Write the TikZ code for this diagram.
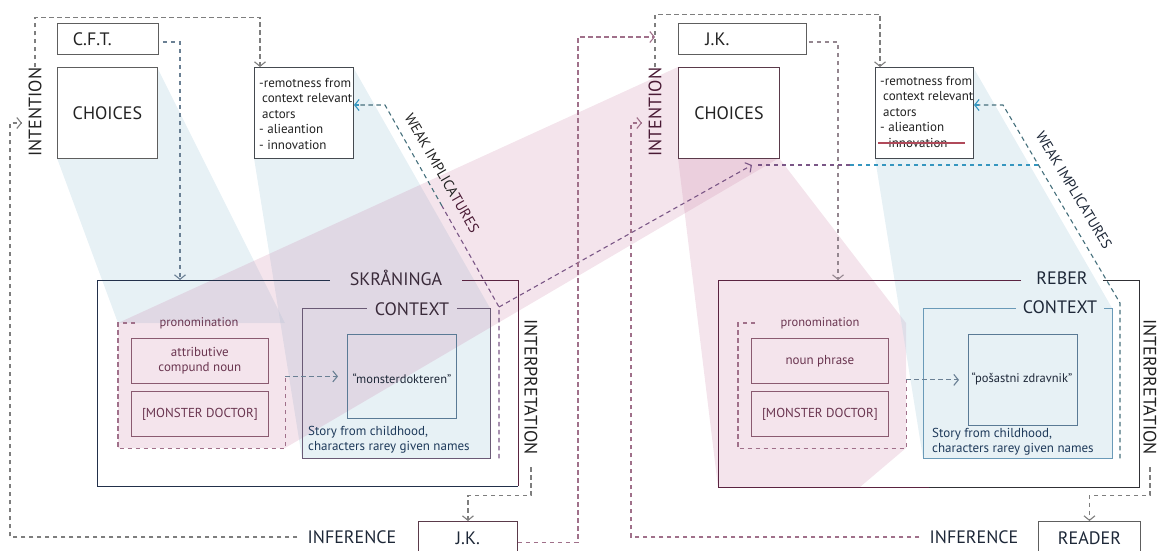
\documentclass[tikz,border=0pt]{standalone}
\usepackage{fontspec}
\setmainfont{PT Sans}
\usetikzlibrary{arrows.meta}

\definecolor{ink}{HTML}{222222}
\definecolor{txtdark}{HTML}{1E2838}
\definecolor{txtmaroon}{HTML}{6A3550}
\definecolor{txtblue}{HTML}{1E3A5A}
\definecolor{maroontxt}{HTML}{4A1A35}
\definecolor{titletxt}{HTML}{3A2A3A}
\definecolor{boxgray}{HTML}{5E5E5E}
\definecolor{boxdark}{HTML}{454A50}
\definecolor{maroonbox}{HTML}{5A3A4A}
\definecolor{navyline}{HTML}{22304A}
\definecolor{maroonline}{HTML}{5A2340}
\definecolor{darkline}{HTML}{303035}
\definecolor{ctxmauve}{HTML}{6A5A75}
\definecolor{ctxblue}{HTML}{6A9AB8}
\definecolor{innerblue}{HTML}{5A7A95}
\definecolor{pinkbox}{HTML}{8A5A70}
\definecolor{pinkdash}{HTML}{A0708A}
\definecolor{mauvedash}{HTML}{94868F}
\definecolor{graydash}{HTML}{7E7E7E}
\definecolor{bluegray}{HTML}{6A8094}
\definecolor{tealdash}{HTML}{46707C}
\definecolor{purpledash}{HTML}{7A5686}
\definecolor{bluearrow}{HTML}{3596BF}
\definecolor{strike}{HTML}{B04A5A}
\definecolor{bandblue}{HTML}{B4D2E1}
\definecolor{bandpink}{HTML}{C87AA0}

\begin{document}
\begin{tikzpicture}[x=1pt,y=-1pt,
  every node/.style={inner sep=0pt, text=ink},
  bigt/.style={font=\fontsize{18}{21}\selectfont},
  midt/.style={font=\fontsize{13}{15.5}\selectfont},
  smallt/.style={font=\fontsize{12.5}{15}\selectfont},
  weakt/.style={font=\fontsize{14.5}{16}\selectfont},
  wbox/.style={draw=#1, fill=white, line width=0.9pt},
  thinbox/.style={draw=#1, line width=0.8pt},
  frame/.style={anchor=north west},
  dsh/.style={line width=1.1pt, dash pattern=on 4.5pt off 3.5pt},
  tip/.style={-{Straight Barb[length=4.5pt,width=11pt]}},
  bandb/.style={fill=bandblue, fill opacity=0.32},
  bandp/.style={fill=bandpink, fill opacity=0.2}
]
\useasboundingbox (0,0) rectangle (1158,550);

% translucent bands linking the boxes
\fill[bandb] (57,158) -- (157,67) -- (285,323) -- (118,323) -- cycle;
\fill[bandb] (254,158) -- (353,67) -- (490,308) -- (490,458) -- (302,458) -- cycle;
\fill[bandp] (678,67) -- (779,158) -- (285,448) -- (118,448) -- (118,323) -- cycle;
\fill[bandp] (678,158) -- (779,158) -- (906,323) -- (906,448) -- (860,487) -- (718,487) -- cycle;
\fill[bandb] (875,158) -- (973,67) -- (1112,308) -- (1112,458) -- (923,458) -- cycle;

% ---------- left half: top row ----------
\node[wbox=boxgray, bigt, frame, minimum height=31pt, text width=70pt, inner xsep=15.5pt, align=left] (cft) at (57,23) {C.F.T.};
\node[wbox=boxgray, bigt, frame, minimum width=100pt, minimum height=91pt] (cho1) at (57,67) {CHOICES};
\node[wbox=boxdark, frame, minimum width=99pt, minimum height=91pt] (rem1) at (254,67) {};
\node[midt, anchor=north west, align=left] (rem1t) at (259,78)
  {-remotness from\\\hspace{3pt}context relevant\\\hspace{3pt}actors\\- alieantion\\- innovation};
\node[bigt, rotate=90] (int1) at (35,112) {INTENTION};

% ---------- right half: top row ----------
\node[wbox=boxgray, bigt, frame, minimum height=31pt, text width=74pt, inner xsep=27pt, align=left] (jk1) at (678,23) {J.K.};
\node[wbox=maroonbox, bigt, frame, minimum width=101pt, minimum height=91pt] (cho2) at (678,67) {CHOICES};
\node[wbox=boxdark, frame, minimum width=98pt, minimum height=91pt] (rem2) at (875,67) {};
\node[midt, anchor=north west, align=left] (rem2t) at (880,76)
  {-remotness from\\\hspace{3pt}context relevant\\\hspace{3pt}actors\\- alieantion\\- innovation};
\draw[strike, line width=1.5pt] (878,143) -- (965,143);
\node[bigt, rotate=90, text=maroontxt] (int2) at (655,112) {INTENTION};

% ---------- left frame: SKRÅNINGA ----------
\node[frame, minimum width=421pt, minimum height=206pt] (skr) at (97,280) {};
\node[bigt, inner xsep=20pt, text=titletxt] (skrt) at (396,278) {SKRÅNINGA};
\draw[navyline, line width=1pt] (skrt.west |- skr.north) -- (skr.north west) -- (skr.south west) -- (skr.south east);
\draw[maroonline, line width=1pt] (skrt.east |- skr.north) -- (skr.north east) -- (skr.south east);

\node[frame, minimum width=188pt, minimum height=150pt] (ctx1) at (302,308) {};
\node[bigt, inner xsep=8pt, text=titletxt] (ctx1t) at (412,309) {CONTEXT};
\draw[ctxmauve, line width=0.8pt] (ctx1t.west |- ctx1.north) -- (ctx1.north west) -- (ctx1.south west)
  -- (ctx1.south east) -- (ctx1.north east) -- (ctx1t.east |- ctx1.north);
\node[thinbox=innerblue, frame, minimum width=109pt, minimum height=84pt] (mon1) at (347,334) {};
\node[smallt, text=txtdark] (mon1t) at (402,379) {“monsterdokteren”};
\node[midt, text=txtblue, anchor=north west, align=left] (story1) at (308,426)
  {Story from childhood,\\characters rarey given names};

\node[frame, minimum width=167pt, minimum height=125pt] (pron1) at (118,323) {};
\node[smallt, text=txtmaroon] (pron1t) at (199,323) {pronomination};
\node[thinbox=pinkbox, frame, midt, text=txtmaroon, align=center, minimum width=137pt, minimum height=45pt] (attr1) at (131,338) {attributive\\compund noun};
\node[thinbox=pinkbox, frame, midt, text=txtmaroon, minimum width=137pt, minimum height=45pt] (md1) at (131,391) {[MONSTER DOCTOR]};
\draw[dsh, pinkdash] ([xshift=17pt]pron1.north west) -- (pron1.north west) -- (pron1.south west)
  -- (pron1.south east) -- (pron1.south east |- mon1.west);
\draw[dsh, bluegray, tip] (pron1.south east |- mon1.west) -- ([xshift=-9pt]mon1.west);

\node[bigt, rotate=-90] (itp1) at (531,387) {INTERPRETATION};

% ---------- right frame: REBER ----------
\node[frame, minimum width=421pt, minimum height=207pt] (reb) at (718,280) {};
\node[bigt, inner xsep=15pt, text=txtdark] (rebt) at (1062,278) {REBER};
\draw[maroonline, line width=1pt] (rebt.west |- reb.north) -- (reb.north west) -- (reb.south west) -- (reb.south);
\draw[darkline, line width=1pt] (rebt.east |- reb.north) -- (reb.north east) -- (reb.south east) -- (reb.south);

\node[frame, minimum width=189pt, minimum height=150pt] (ctx2) at (923,308) {};
\node[bigt, inner xsep=7pt, text=txtdark] (ctx2t) at (1060,307) {CONTEXT};
\draw[ctxblue, line width=0.8pt] (ctx2t.west |- ctx2.north) -- (ctx2.north west) -- (ctx2.south west)
  -- (ctx2.south east) -- (ctx2.north east) -- (ctx2t.east |- ctx2.north);
\node[thinbox=innerblue, frame, minimum width=109pt, minimum height=91pt] (pos2) at (968,334) {};
\node[smallt, text=txtdark] (pos2t) at (1022,379) {“pošastni zdravnik”};
\node[midt, text=txtblue, anchor=north west, align=left] (story2) at (932,428)
  {Story from childhood,\\characters rarey given names};

\node[frame, minimum width=168pt, minimum height=125pt] (pron2) at (738,323) {};
\node[smallt, text=txtmaroon] (pron2t) at (820,323) {pronomination};
\node[thinbox=pinkbox, frame, midt, text=txtmaroon, minimum width=137pt, minimum height=45pt] (np2) at (751,338) {noun phrase};
\node[thinbox=pinkbox, frame, midt, text=txtmaroon, minimum width=137pt, minimum height=45pt] (md2) at (751,391) {[MONSTER DOCTOR]};
\draw[dsh, pinkdash] ([xshift=17pt]pron2.north west) -- (pron2.north west) -- (pron2.south west)
  -- (pron2.south east) -- (pron2.south east |- pos2.west);
\draw[dsh, bluegray, tip] (pron2.south east |- pos2.west) -- ([xshift=-9pt]pos2.west);

\node[bigt, rotate=-90] (itp2) at (1150,387) {INTERPRETATION};

% ---------- bottom row ----------
\node[bigt, text=txtdark] (inf1) at (352,537) {INFERENCE};
\node[wbox=maroonbox, bigt, text=txtdark, frame, minimum width=99pt, minimum height=34pt] (jkb) at (418,521) {J.K.};
\node[bigt, text=txtdark] (inf2) at (974,537) {INFERENCE};
\node[wbox=boxgray, bigt, text=txtdark, frame, minimum width=102pt, minimum height=34pt] (reader) at (1038,521) {READER};

% ---------- route points ----------
\coordinate (loopL) at (10,123);
\coordinate (int1in) at (22,123);
\coordinate (loopR) at (631,123);
\coordinate (int2in) at (642,123);
\coordinate (jkin) at (655,37);
\coordinate (wj1) at (499,307);
\coordinate (wm1) at (442,206);
\coordinate (wb1) at (385,105);
\coordinate (wj2) at (1120,303);
\coordinate (wb2) at (1003,105);
\coordinate (wk2) at (1038,165);
\coordinate (hmid) at (850,165);
\coordinate (ltip) at (752,165);

% ---------- connectors, left half ----------
\draw[dsh, graydash, tip] (int1.east) -- ++(0,-50) -| ([xshift=6pt]rem1.north west);
\draw[dsh, bluegray, tip] ([xshift=4pt,yshift=-3pt]cft.east) -| ([xshift=83pt]skr.north west);
\draw[dsh, graydash, tip] ([xshift=-10pt]inf1.west) -| (loopL) -- (int1in);
\draw[dsh, tealdash] (wm1) -- (wb1) -- ([xshift=4pt]rem1.east |- wb1);
\draw[bluearrow, line width=1.1pt, tip] ([xshift=5pt]rem1.east |- wb1) -- (rem1.east |- wb1);
\draw[dsh, purpledash] (wj1 |- ctx1.south) -- (wj1) -- (wm1);
\draw[dsh, purpledash, tip] (wj1) -- (ltip);
\draw[dsh, graydash, tip] ([yshift=-12pt]itp1.east) -- ++(0,28) -| (jkb.north);
\draw[dsh, pinkdash, tip] ([yshift=-4pt]jkb.east) -| ([xshift=-77pt]jkin) -- (jkin);

% ---------- connectors, right half ----------
\draw[dsh, graydash, tip] (int2.east) -- ++(0,-53) -| ([xshift=5pt]rem2.north west);
\draw[dsh, mauvedash, tip] ([xshift=2pt,yshift=-3pt]jk1.east) -| ([xshift=120pt]reb.north west);
\draw[dsh, pinkdash, tip] ([xshift=-10pt]inf2.west) -| (loopR) -- (int2in);
\draw[dsh, tealdash] (wj2 |- ctx2.south) -- (wj2) -- (wb2) -- ([xshift=4pt]rem2.east |- wb2);
\draw[bluearrow, line width=1.1pt, tip] ([xshift=5pt]rem2.east |- wb2) -- (rem2.east |- wb2);
\draw[dsh, bluearrow] (wk2) -- (hmid);
\draw[dsh, purpledash] (hmid) -- ([xshift=6pt]ltip);
\draw[dsh, graydash, tip] ([yshift=-12pt]itp2.east) -- ++(0,28) -| (reader.north);

% ---------- diagonal labels ----------
\node[weakt, rotate=-60] (weak1) at (442,173) {WEAK IMPLICA{\color{maroontxt}TURES}};
\node[weakt, rotate=-59, text=txtdark] (weak2) at (1074,190) {WEAK IMPLICATURES};
\end{tikzpicture}
\end{document}
